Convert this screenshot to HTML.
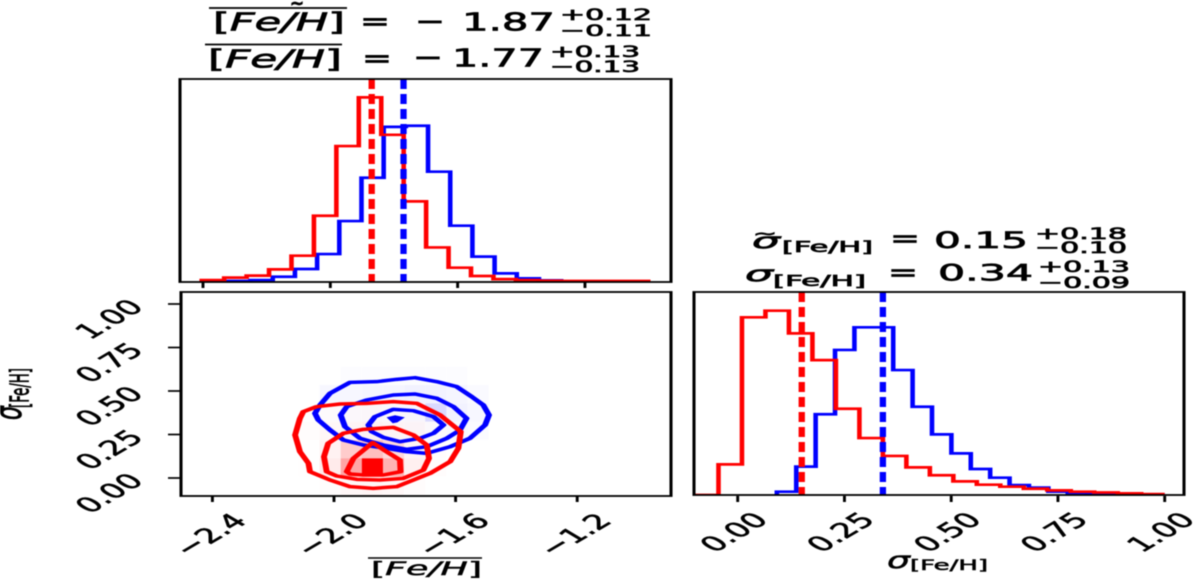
<!DOCTYPE html>
<html lang="en">
<head>
<meta charset="utf-8">
<title>Corner plot of mean metallicity and dispersion</title>
<style>
html,body{margin:0;padding:0;background:#fff;}
svg{display:block;filter:blur(0.4px);}
text{font-family:"DejaVu Sans","Liberation Sans",sans-serif;fill:#000;stroke:#000;stroke-width:0.5px;}
.ttl text{stroke-width:0.7px;}
.it{font-style:italic;}
</style>
</head>
<body>
<svg id="chart" xmlns="http://www.w3.org/2000/svg" width="1200" height="579" viewBox="0 0 1200 579">
  <g class="ttl">
    <line x1="209" x2="347" y1="8" y2="8" stroke="#000" stroke-width="1.8"/>
    <text x="297" y="9" font-size="17" text-anchor="middle" font-weight="bold">~</text>
    <text x="213" y="30.5" font-size="25" textLength="132" lengthAdjust="spacingAndGlyphs">[<tspan class="it">Fe/H</tspan>]</text>
    <text x="360" y="30" font-size="26" textLength="30" lengthAdjust="spacingAndGlyphs">=</text>
    <text x="415" y="30" font-size="26" textLength="30" lengthAdjust="spacingAndGlyphs">−</text>
    <text x="462" y="30.5" font-size="25" textLength="93" lengthAdjust="spacingAndGlyphs">1.87</text>
    <text x="560" y="20" font-size="16" textLength="92" lengthAdjust="spacingAndGlyphs">+0.12</text>
    <text x="560" y="36" font-size="16" textLength="92" lengthAdjust="spacingAndGlyphs">−0.11</text>
    <line x1="205" x2="342" y1="44.5" y2="44.5" stroke="#000" stroke-width="1.8"/>
    <text x="208" y="67.5" font-size="25" textLength="134" lengthAdjust="spacingAndGlyphs">[<tspan class="it">Fe/H</tspan>]</text>
    <text x="362" y="67" font-size="26" textLength="30" lengthAdjust="spacingAndGlyphs">=</text>
    <text x="413" y="66" font-size="26" textLength="30" lengthAdjust="spacingAndGlyphs">−</text>
    <text x="452" y="66.5" font-size="25" textLength="92" lengthAdjust="spacingAndGlyphs">1.77</text>
    <text x="550" y="57" font-size="16" textLength="90" lengthAdjust="spacingAndGlyphs">+0.13</text>
    <text x="550" y="72" font-size="16" textLength="90" lengthAdjust="spacingAndGlyphs">−0.13</text>
  </g>
  <g class="ttl">
    <text class="it" x="752" y="248" font-size="21" textLength="28" lengthAdjust="spacingAndGlyphs">σ</text>
    <text x="753" y="238.5" font-size="15" textLength="24" lengthAdjust="spacingAndGlyphs">~</text>
    <text x="782" y="252" font-size="15" textLength="91" lengthAdjust="spacingAndGlyphs">[Fe/H]</text>
    <text x="890" y="247" font-size="25" textLength="30" lengthAdjust="spacingAndGlyphs">=</text>
    <text x="934" y="248" font-size="22" textLength="94" lengthAdjust="spacingAndGlyphs">0.15</text>
    <text x="1035" y="239" font-size="16" textLength="92" lengthAdjust="spacingAndGlyphs">+0.18</text>
    <text x="1035" y="253" font-size="16" textLength="92" lengthAdjust="spacingAndGlyphs">−0.10</text>
    <text class="it" x="745" y="281" font-size="21" textLength="28" lengthAdjust="spacingAndGlyphs">σ</text>
    <text x="773" y="286" font-size="15" textLength="93" lengthAdjust="spacingAndGlyphs">[Fe/H]</text>
    <text x="888" y="281" font-size="25" textLength="30" lengthAdjust="spacingAndGlyphs">=</text>
    <text x="938" y="280.5" font-size="22" textLength="95" lengthAdjust="spacingAndGlyphs">0.34</text>
    <text x="1038" y="272" font-size="16" textLength="92" lengthAdjust="spacingAndGlyphs">+0.13</text>
    <text x="1038" y="288" font-size="16" textLength="92" lengthAdjust="spacingAndGlyphs">−0.09</text>
  </g>
  <g>
    <line x1="368" x2="482" y1="558" y2="558" stroke="#000" stroke-width="1.6"/>
    <text x="371" y="575" font-size="19" textLength="111" lengthAdjust="spacingAndGlyphs">[<tspan class="it">Fe/H</tspan>]</text>
  </g>
  <g>
    <text class="it" x="887" y="568" font-size="23" textLength="23" lengthAdjust="spacingAndGlyphs">σ</text>
    <text x="910" y="570" font-size="14" textLength="78" lengthAdjust="spacingAndGlyphs">[Fe/H]</text>
  </g>
  <g>
    <text class="it" transform="translate(21,420) scale(1.7,1) rotate(-90)" font-size="22">σ</text>
    <text transform="translate(28.5,408) scale(1.7,1) rotate(-90)" font-size="15" textLength="40" lengthAdjust="spacingAndGlyphs">[Fe/H]</text>
  </g>
  <g id="plots"></g>
</svg>
<script>
// Histogram of mean [Fe/H]
const feRedRange = [-2.404, -0.994];
const feBlueRange = [-2.39, -0.996];
const feRedCounts = [0.009,0.022,0.033,0.067,0.141,0.358,0.736,1.0,0.797,0.436,0.186,0.076,0.031,0.014,0.009,0.005,0.004,0.004,0.004,0.004];
const feBlueCounts = [0,0.004,0.009,0.027,0.069,0.150,0.329,0.564,0.840,0.846,0.597,0.304,0.136,0.045,0.018,0.007,0.002,0,0,0];
// Histogram of sigma [Fe/H]
const sigmaRedRange = [-0.1, 1.0];
const sigmaBlueRange = [0.0917, 1.0];
const sigmaRedCounts = [0,0.166,0.964,1.0,0.877,0.732,0.468,0.309,0.212,0.150,0.107,0.074,0.056,0.045,0.034,0.025,0.018,0.014,0.009,0.005];
const sigmaBlueCounts = [0.018,0.154,0.438,0.787,0.910,0.910,0.678,0.479,0.329,0.226,0.141,0.094,0.054,0.040,0.018,0.011,0.005,0.004,0.002,0.002];
// Medians
const feMedians = {red:-1.87, blue:-1.77};
const sigmaMedians = {red:0.15, blue:0.34};
// Tick labels
const feTicks = [-2.4,-2.0,-1.6,-1.2];
const sigmaTicks = [0,0.25,0.5,0.75,1.0];
const feTickLabels = ['−2.4','−2.0','−1.6','−1.2'];
const sigmaTickLabels = ['0.00','0.25','0.50','0.75','1.00'];
// 2D histogram cells (rows bottom to top, [Fe/H] columns left to right)
const heatFeStart = -2.117;
const heatFeStep = 0.0695;
const heatSigmaStart = -0.0977;
const heatSigmaStep = 0.1054;
const heatRed = [
 [0,0.01,0.03,0.04,0.03,0.01,0,0,0],
 [0.005,0.08,0.35,1.0,0.3,0.06,0.01,0,0],
 [0.005,0.05,0.2,0.25,0.15,0.04,0.01,0,0],
 [0.01,0.03,0.04,0.05,0.04,0.03,0.01,0,0],
 [0,0.01,0.015,0.02,0.015,0.01,0.005,0,0],
 [0,0,0,0,0,0,0,0,0],
 [0,0,0,0,0,0,0,0,0]
];
const heatBlue = [
 [0,0,0,0,0,0,0,0,0],
 [0,0,0,0,0,0,0,0,0],
 [0,0,0,0,0,0,0,0,0],
 [0,0,0.01,0.01,0.01,0.02,0.02,0.03,0.02],
 [0,0.01,0.02,0.02,0.02,0.03,0.15,0.05,0.03],
 [0,0.03,0.03,0.04,0.04,0.05,0.05,0.04,0.02],
 [0,0,0.01,0.01,0.01,0.01,0.01,0.01,0]
];
// Contours as [mean [Fe/H], sigma] pairs
const blueOuter = [[-2.0625,0.3716],[-2.046,0.4195],[-2.013,0.4866],[-1.947,0.5498],[-1.86,0.5536],[-1.794,0.567],[-1.7335,0.5766],[-1.662,0.5536],[-1.5965,0.5249],[-1.547,0.4674],[-1.509,0.4195],[-1.49,0.362],[-1.503,0.3046],[-1.553,0.228],[-1.618,0.18],[-1.695,0.1417],[-1.761,0.1513],[-1.827,0.1705],[-1.9035,0.1896],[-1.969,0.2184],[-2.013,0.2758],[-2.0515,0.3333]];
const blueMiddle = [[-1.978,0.362],[-1.958,0.41],[-1.8925,0.4482],[-1.805,0.477],[-1.7335,0.4827],[-1.662,0.4578],[-1.607,0.41],[-1.564,0.3429],[-1.5855,0.2758],[-1.629,0.228],[-1.695,0.18],[-1.761,0.1647],[-1.838,0.1896],[-1.9145,0.228],[-1.964,0.295]];
const blueInner = [[-1.887,0.3046],[-1.865,0.3525],[-1.805,0.3946],[-1.739,0.3869],[-1.673,0.3525],[-1.64,0.3046],[-1.673,0.2567],[-1.717,0.228],[-1.783,0.2088],[-1.838,0.2337],[-1.876,0.2663]];
const blueCore = [[-1.821,0.3467],[-1.799,0.3563],[-1.774,0.3467],[-1.794,0.3237],[-1.805,0.3199]];
const redOuter = [[-2.128,0.2471],[-2.112,0.3429],[-2.101,0.3812],[-2.057,0.41],[-1.98,0.4253],[-1.8925,0.4291],[-1.805,0.4387],[-1.728,0.4291],[-1.651,0.362],[-1.583,0.2663],[-1.591,0.1705],[-1.618,0.0938],[-1.684,0.0268],[-1.794,-0.0498],[-1.871,-0.0594],[-1.947,-0.0498],[-2.013,-0.0115],[-2.079,0.0364],[-2.084,0.0843],[-2.112,0.1513]];
const redMiddle = [[-2.033,0.1226],[-2.019,0.1992],[-1.969,0.2567],[-1.9035,0.2797],[-1.805,0.2912],[-1.739,0.2471],[-1.695,0.1896],[-1.6875,0.113],[-1.706,0.0459],[-1.772,-0.0019],[-1.849,-0.0115],[-1.925,-0.0077],[-1.991,0.0115],[-2.024,0.0364]];
const redInner = [[-1.958,0.0364],[-1.936,0.113],[-1.873,0.203],[-1.827,0.1513],[-1.783,0.1034],[-1.781,0.0364],[-1.838,0.0172],[-1.9035,0.0172],[-1.947,0.023]];

const SX = 1.7;
const NS = 'http://www.w3.org/2000/svg';
const root = document.getElementById('plots');
function make(tag, attrs, parent){
  const el = document.createElementNS(NS, tag);
  for (const k in attrs) el.setAttribute(k, attrs[k]);
  (parent || root).appendChild(el);
  return el;
}
// Axis functions, returning real pixel positions
const xFeTop = v => 203 + (v + 2.4) * 318.3;
const yTop = v => 281.7 - v * 184.3;
const xFeMain = v => 334 + (v + 2.0) * 304;
const ySigmaMain = v => 478 - v * 174;
const xSigmaRight = v => 737.7 + v * 427;
const yRight = v => 495 - v * 184.3;

// Stretched layer: widths are scaled horizontally like the reference
const stretch = make('g', {transform:'scale(' + SX + ',1)'});


const defs = make('defs', {}, stretch);
const panels = [
  {id:'clip-top', x:180, y:79, w:491, h:203},
  {id:'clip-main', x:181, y:292, w:490, h:204},
  {id:'clip-right', x:694, y:292, w:490, h:203}
];
panels.forEach(p => {
  const c = make('clipPath', {id:p.id}, defs);
  make('rect', {x:p.x/SX, y:p.y, width:p.w/SX, height:p.h}, c);
});
function histPath(counts, range, xf, yf){
  const step = (range[1] - range[0]) / counts.length;
  let d = 'M' + (xf(range[0])/SX).toFixed(2) + ' ' + yf(0).toFixed(2);
  counts.forEach((c, i) => {
    const x0 = xf(range[0] + i * step) / SX;
    const x1 = xf(range[0] + (i + 1) * step) / SX;
    d += ' L' + x0.toFixed(2) + ' ' + yf(c).toFixed(2) + ' L' + x1.toFixed(2) + ' ' + yf(c).toFixed(2);
  });
  return d;
}
function drawHist(g, counts, range, xf, yf, color){
  return make('path', {d:histPath(counts, range, xf, yf), fill:'none', stroke:color, 'stroke-width':2.7, 'stroke-linejoin':'miter'}, g);
}
function drawMedian(g, value, xf, top, bottom, color){
  const x = xf(value) / SX;
  return make('line', {x1:x, x2:x, y1:top, y2:bottom, stroke:color, 'stroke-width':3.7, 'stroke-dasharray':'10 5'}, g);
}
function contourPath(points){
  return points.map((p, i) => (i ? 'L' : 'M') + (xFeMain(p[0])/SX).toFixed(2) + ' ' + ySigmaMain(p[1]).toFixed(2)).join(' ') + ' Z';
}

// Top histogram
const topG = make('g', {'clip-path':'url(#clip-top)'}, stretch);


const feBlueHist = drawHist(topG, feBlueCounts, feBlueRange, xFeTop, yTop, '#0000ff');


const feRedHist = drawHist(topG, feRedCounts, feRedRange, xFeTop, yTop, '#ff0000');


const feRedMedian = drawMedian(topG, feMedians.red, xFeTop, 79, 282, '#ff0000');


const feBlueMedian = drawMedian(topG, feMedians.blue, xFeTop, 79, 282, '#0000ff');



// Main 2D panel
const mainG = make('g', {'clip-path':'url(#clip-main)'}, stretch);


function drawHeat(matrix, color){
  matrix.forEach((row, r) => {
    row.forEach((a, c) => {
      if (!a) return;
      const x0 = xFeMain(heatFeStart + c * heatFeStep) / SX;
      const x1 = xFeMain(heatFeStart + (c + 1) * heatFeStep) / SX;
      const y0 = ySigmaMain(heatSigmaStart + r * heatSigmaStep);
      const y1 = ySigmaMain(heatSigmaStart + (r + 1) * heatSigmaStep);
      const cell = make('rect', {x:x0, y:y1, width:x1 - x0, height:y0 - y1, fill:color, 'fill-opacity':a}, mainG);
      
      
    });
  });
}
drawHeat(heatBlue, '#0000ff');
drawHeat(heatRed, '#ff0000');
[blueOuter, blueMiddle, blueInner].forEach(pts => {
  const c = make('path', {d:contourPath(pts), fill:'none', stroke:'#0000ff', 'stroke-width':3.5, 'stroke-linejoin':'round'}, mainG);
  
  
});
const coreBlue = make('path', {d:contourPath(blueCore), fill:'#0000ff', stroke:'#0000ff', 'stroke-width':1.5}, mainG);


[redOuter, redMiddle, redInner].forEach(pts => {
  const c = make('path', {d:contourPath(pts), fill:'none', stroke:'#ff0000', 'stroke-width':3.5, 'stroke-linejoin':'round'}, mainG);
  
  
});

// Right histogram
const rightG = make('g', {'clip-path':'url(#clip-right)'}, stretch);


const sigmaBlueHist = drawHist(rightG, sigmaBlueCounts, sigmaBlueRange, xSigmaRight, yRight, '#0000ff');


const sigmaRedHist = drawHist(rightG, sigmaRedCounts, sigmaRedRange, xSigmaRight, yRight, '#ff0000');


const sigmaRedMedian = drawMedian(rightG, sigmaMedians.red, xSigmaRight, 292, 496, '#ff0000');


const sigmaBlueMedian = drawMedian(rightG, sigmaMedians.blue, xSigmaRight, 292, 496, '#0000ff');



// Frames
panels.forEach(p => {
  const f = make('rect', {x:p.x/SX, y:p.y, width:p.w/SX, height:p.h, fill:'none', stroke:'#000', 'stroke-width':1.8}, stretch);
  
  
});

// Ticks
function xTick(x, y){
  const t = make('line', {x1:x/SX, x2:x/SX, y1:y, y2:y + 6, stroke:'#000', 'stroke-width':1.7}, stretch);
  
  
}
function yTick(y){
  const t = make('line', {x1:168/SX, x2:181/SX, y1:y, y2:y, stroke:'#000', 'stroke-width':1.7}, stretch);
  
  
}
function tickLabel(text, x, y){
  const t = make('text', {transform:'translate(' + x + ',' + y + ') scale(' + SX + ',1) rotate(-45)', 'text-anchor':'end', 'font-size':20.5});
  t.textContent = text;
  
  
}
feTicks.forEach((v, i) => {
  xTick(xFeTop(v), 282);
  xTick(xFeMain(v), 496);
  tickLabel(feTickLabels[i], xFeMain(v) + 36, 522);
});
sigmaTicks.forEach((v, i) => {
  xTick(xSigmaRight(v), 496);
  yTick(ySigmaMain(v));
  tickLabel(sigmaTickLabels[i], xSigmaRight(v) + 32, 521);
  tickLabel(sigmaTickLabels[i], 145, ySigmaMain(v) + 4);
});
</script>
</body>
</html>
